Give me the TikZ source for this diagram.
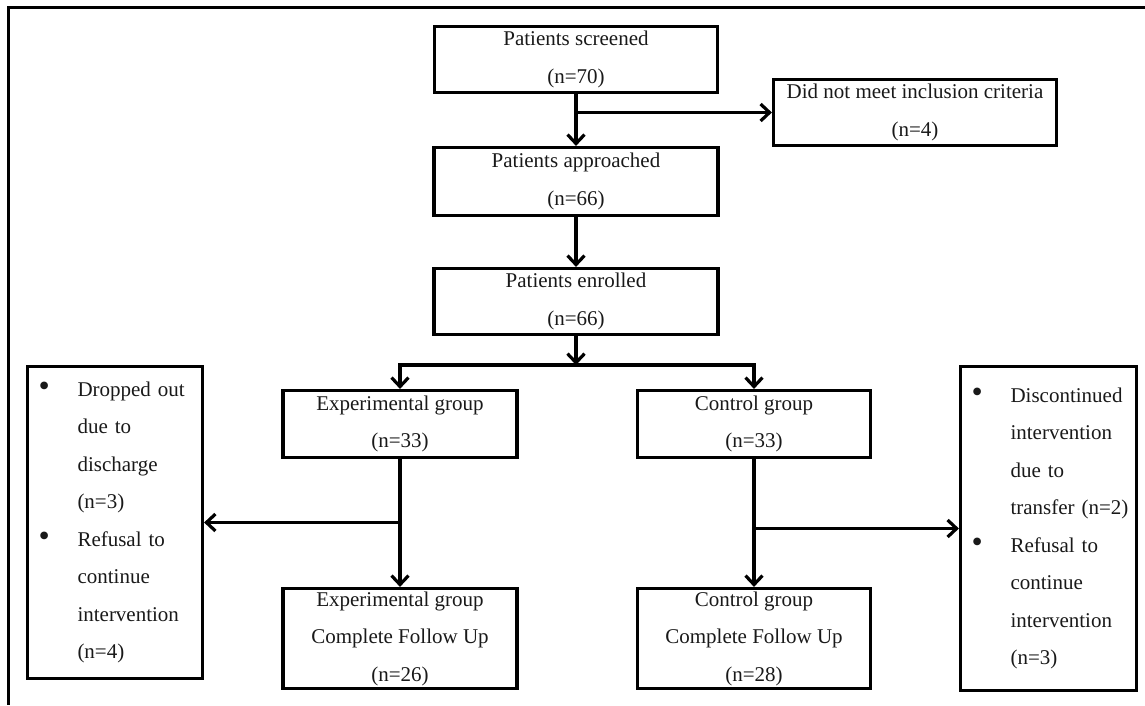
\documentclass[tikz,border=0pt]{standalone}
\usepackage{fontspec}
\setmainfont{Liberation Serif}
\usetikzlibrary{arrows.meta}
\definecolor{txt}{RGB}{25,25,25}
\newcommand{\bl}[1]{\mbox{\makebox[38pt][l]{\hspace*{-1pt}{\fontsize{32}{37.5}\selectfont\textbullet}}#1}}
\newcommand{\il}[1]{\mbox{\hspace*{38pt}#1}}
\begin{document}
\begin{tikzpicture}[x=1pt,y=-1pt,
  box/.style={draw, line width=3.2pt, rectangle, inner sep=0pt, align=center,
    font=\fontsize{21}{37.5}\selectfont, text=txt},
  side/.style={draw, line width=3.2pt, rectangle, inner xsep=12pt, inner ysep=0pt,
    align=left, font=\fontsize{21}{37.5}\selectfont, text=txt},
  arr/.style={line width=3.2pt, -{Straight Barb[length=9pt,width=17pt]}}]
\useasboundingbox (0,0) rectangle (1145,705);
\draw[line width=3pt] (1145,7) -- (8,7) -- (8,705);

\node[box, minimum width=283pt, minimum height=66pt] (scr) at (576,59.5) {Patients screened\\(n=70)};
\node[box, minimum width=284pt, minimum height=68pt] (app) at (576,181.5) {Patients approached\\(n=66)};
\node[box, minimum width=284pt, minimum height=66pt] (enr) at (576,301.5) {Patients enrolled\\(n=66)};
\node[box, minimum width=283pt, minimum height=66pt] (dnm) at (915,112.5) {Did not meet inclusion criteria\\(n=4)};
\node[box, minimum width=234pt, minimum height=67pt] (exp) at (400,424) {Experimental group\\(n=33)};
\node[box, minimum width=233pt, minimum height=67pt] (ctl) at (754,424) {Control group\\(n=33)};
\node[box, minimum width=234pt, minimum height=100pt] (expc) at (400,638.5) {Experimental group\\Complete Follow Up\\(n=26)};
\node[box, minimum width=233pt, minimum height=100pt] (ctlc) at (754,638.5) {Control group\\Complete Follow Up\\(n=28)};

\node[side, text width=151pt, minimum height=312pt] (lft) at (115,522.5)
  {\bl{Dropped out}\\ \il{due to}\\ \il{discharge}\\ \il{(n=3)}\\
   \bl{Refusal to}\\ \il{continue}\\ \il{intervention}\\ \il{(n=4)}};
\node[side, text width=152pt, minimum height=324pt] (rgt) at (1048.5,528.5)
  {\bl{Discontinued}\\ \il{intervention}\\ \il{due to}\\ \il{transfer (n=2)}\\
   \bl{Refusal to}\\ \il{continue}\\ \il{intervention}\\ \il{(n=3)}};

\draw[arr] (scr.south) -- (app.north);
\draw[arr] (scr.south |- dnm.west) -- (dnm.west);
\draw[arr] (app.south) -- (enr.north);
\coordinate (j2) at (576,365);
\draw[arr] (enr.south) -- (j2);
\draw[arr] (j2) -| (exp.north);
\draw[arr] (j2) -| (ctl.north);
\draw[arr] (exp.south) -- (expc.north);
\draw[arr] (exp.south |- lft.east) -- (lft.east);
\draw[arr] (ctl.south) -- (ctlc.north);
\draw[arr] (ctl.south |- rgt.west) -- (rgt.west);
\end{tikzpicture}
\end{document}
